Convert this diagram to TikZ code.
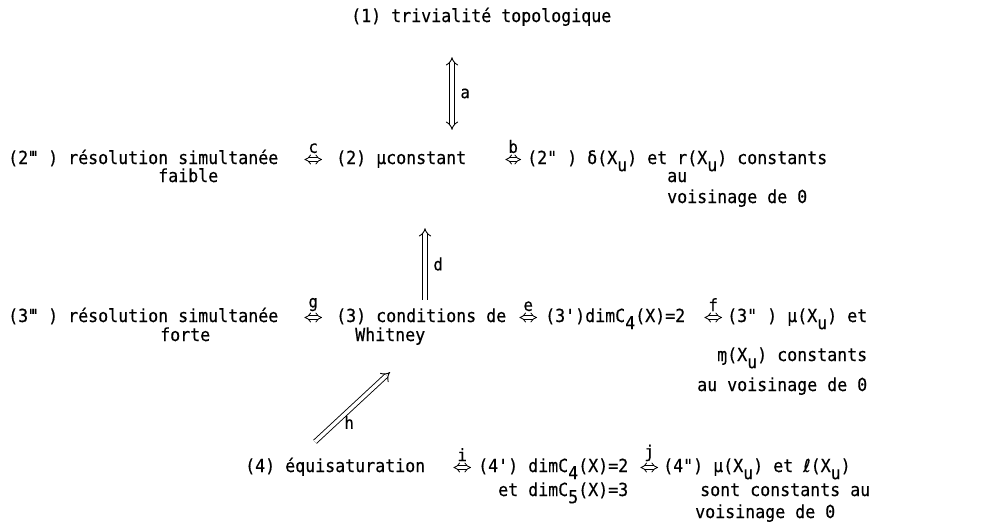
\documentclass[tikz,border=0pt]{standalone}
\usepackage{fontspec}
\setmonofont{DejaVu Sans Mono}[FakeStretch=0.923,FakeBold=0.4]
\newfontfamily\ellfont{DejaVu Sans}[FakeBold=0.4]
\usepackage{tikz}
\usetikzlibrary{arrows.meta,positioning}
\newcommand\lowr[1]{\raisebox{-0.4em}{#1}}
\newcommand\tripr{\makebox[\fontcharwd\font`x][c]{'\kern-0.42em'\kern-0.42em'}}

\begin{document}
\begin{tikzpicture}[x=1pt,y=-1pt,
  font=\ttfamily\fontsize{18}{22}\selectfont,
  txt/.style={anchor=base west,inner sep=0pt,text height=13pt,text depth=4pt},
  lbl/.style={inner sep=1pt,font=\ttfamily\fontsize{17}{20}\selectfont},
  iff/.style={double,double distance=2.6pt,line width=0.8pt,{Implies}-{Implies}},
  vimp/.style={double,double distance=3.4pt,line width=0.9pt}]
\useasboundingbox (0,0) rectangle (983,531);
% row 1
\node[txt] (t1) at (351,22) {(1) trivialité topologique};
% row 2
\node[txt] (l2) at (8,164) {(2\tripr{} ) résolution simultanée};
\node[txt] (fb) at (158,182) {faible};
\node[txt] (m2) at (336,164) {(2) µconstant};
\node[txt] (r2) at (527,164) {(2" ) δ(X\lowr{u}) et r(X\lowr{u}) constants};
\node[txt] (au2) at (667,182) {au};
\node[txt] (vz2) at (667,203) {voisinage de 0};
% row 3
\node[txt] (l3) at (8,322) {(3\tripr{} ) résolution simultanée};
\node[txt] (ft) at (160,341) {forte};
\node[txt] (m3) at (336,322) {(3) conditions de};
\node[txt] (wh) at (355,341) {Whitney};
\node[txt] (d3) at (545,322) {(3')dimC\lowr{4}(X)=2};
\node[txt] (r3) at (727,322) {(3" ) µ(X\lowr{u}) et};
\path (r3.base east) ++(0,39) node[txt,anchor=base east] (mm3) {ɱ(X\lowr{u}) constants};
\path (r3.base east) ++(0,69) node[txt,anchor=base east] (av3) {au voisinage de 0};
% row 4
\node[txt] (n4) at (245,472) {(4) équisaturation};
\node[txt] (d4) at (478,472) {(4') dimC\lowr{4}(X)=2};
\path (d4.base east) ++(0,24) node[txt,anchor=base east] (d45) {et dimC\lowr{5}(X)=3};
\node[txt] (r4) at (663,472) {(4") µ(X\lowr{u}) et {\ellfont ℓ}(X\lowr{u})};
\node[txt] (s4) at (700,496) {sont constants au};
\node[txt] (v4) at (695,518) {voisinage de 0};
% vertical and oblique implications
\coordinate (ax) at (452,0);
\coordinate (dx) at (425,0);
\draw[vimp,{Implies}-{Implies}] ([yshift=-31pt]t1.south -| ax) -- ([yshift=21pt]m2.north -| ax)
  node[midway,right=7pt,lbl] {a};
\draw[vimp,-{Implies}] ([yshift=9pt]m3.north -| dx) -- ([yshift=-60pt]m2.south -| dx)
  node[midway,right=7pt,lbl] {d};
\coordinate (hs) at ([shift={(70,-17)}]n4.north west);
\coordinate (he) at ([shift={(54,46)}]m3.south west);
\draw[vimp,-{Implies}] (hs) -- (he) node[pos=0.28,right=7pt,lbl] {h};
% horizontal equivalences
\draw[iff] ([xshift=26pt]l2.east) -- ([xshift=-14pt]m2.west) node[midway,above=5pt,lbl] {c};
\draw[iff] ([xshift=39pt]m2.east) -- ([xshift=-6pt]r2.west) node[midway,above=5pt,lbl] {b};
\draw[iff] ([xshift=26pt]l3.east) -- ([xshift=-14pt]m3.west) node[midway,above=5pt,lbl] {g};
\draw[iff] ([xshift=13pt]m3.east) -- ([xshift=-8pt]d3.west) node[midway,above=5pt,lbl] {e};
\draw[iff] ([xshift=19pt]d3.east) -- ([xshift=-5pt]r3.west) node[midway,above=5pt,lbl] {f};
\draw[iff] ([xshift=28pt]n4.east) -- ([xshift=-7pt]d4.west) node[midway,above=5pt,lbl] {i};
\draw[iff] ([xshift=12pt]d4.east) -- ([xshift=-5pt]r4.west) node[midway,above=5pt,lbl] {j};
\end{tikzpicture}
\end{document}
